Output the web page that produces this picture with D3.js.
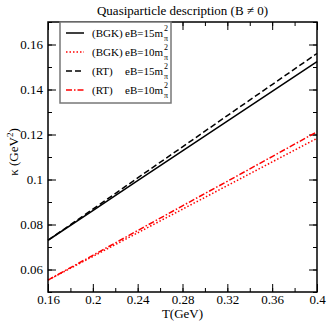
<!DOCTYPE html>
<html><head><meta charset="utf-8">
<script src="https://cdn.jsdelivr.net/npm/d3@7"></script>
<style>body{margin:0;background:#fff}svg{display:block}</style>
</head><body>
<svg id="c" width="327" height="322"></svg>
<script>
const T = [0.16, 0.20, 0.24, 0.28, 0.32, 0.36, 0.40];
const bgk15 = [0.0730, 0.0862, 0.0995, 0.1127, 0.1259, 0.1392, 0.1524];
const bgk10 = [0.0553, 0.0658, 0.0763, 0.0868, 0.0973, 0.1078, 0.1183];
const rt15  = [0.0730, 0.0868, 0.1007, 0.1145, 0.1284, 0.1422, 0.1560];
const rt10  = [0.0553, 0.0663, 0.0773, 0.0883, 0.0992, 0.1102, 0.1212];
const xTicks = [0.16, 0.2, 0.24, 0.28, 0.32, 0.36, 0.4];
const yTicks = [0.06, 0.08, 0.1, 0.12, 0.14, 0.16];
const seriesNames = ["(BGK)", "(BGK)", "(RT)", "(RT)"];
const seriesEB = ["eB=15m", "eB=10m", "eB=15m", "eB=10m"];

const FF = "'Liberation Serif'";
const svg = d3.select("#c");
const L = 48, R = 317, Tp = 22, B = 292;
const x = d3.scaleLinear().domain([0.16, 0.4]).range([L, R]);
const y = d3.scaleLinear().domain([0.05, 0.17]).range([B, Tp]);

const series = [
  {v: bgk15, color: "#000", dash: null},
  {v: bgk10, color: "#ff0000", dash: "1.5,2"},
  {v: rt15, color: "#000", dash: "6,3"},
  {v: rt10, color: "#ff0000", dash: "6,2,1.5,2"}
];

const fmt = d => String(+d.toFixed(2));
const xMinor = d3.range(0.16, 0.4001, 0.02);
const yMinor = d3.range(0.05, 0.1701, 0.01);
function axisGroup(axis, tr){
  const g = svg.append("g").attr("transform", tr).call(axis);
  g.select(".domain").remove();
  g.selectAll("line").attr("stroke","#000");
  return g;
}
axisGroup(d3.axisBottom(x).tickValues(xMinor).tickSize(-4).tickFormat(""), `translate(0,${B})`);
axisGroup(d3.axisBottom(x).tickValues(xTicks).tickSize(-8).tickFormat(fmt).tickPadding(3), `translate(0,${B})`);
axisGroup(d3.axisTop(x).tickValues(xMinor).tickSize(-4).tickFormat(""), `translate(0,${Tp})`);
axisGroup(d3.axisTop(x).tickValues(xTicks).tickSize(-8).tickFormat(""), `translate(0,${Tp})`);
axisGroup(d3.axisLeft(y).tickValues(yMinor).tickSize(-4).tickFormat(""), `translate(${L},0)`);
axisGroup(d3.axisLeft(y).tickValues(yTicks).tickSize(-8).tickFormat(fmt).tickPadding(5), `translate(${L},0)`);
axisGroup(d3.axisRight(y).tickValues(yMinor).tickSize(-4).tickFormat(""), `translate(${R},0)`);
axisGroup(d3.axisRight(y).tickValues(yTicks).tickSize(-8).tickFormat(""), `translate(${R},0)`);

const line = d3.line().x((d,i)=>x(T[i])).y(d=>y(d));
series.forEach(s=>{
  svg.append("path").attr("d", line(s.v)).attr("fill","none").attr("stroke", s.color)
    .attr("stroke-width", 1.5).attr("stroke-dasharray", s.dash);
});

svg.append("rect").attr("x", L).attr("y", Tp).attr("width", R-L).attr("height", B-Tp)
  .attr("fill","none").attr("stroke","#000").attr("stroke-width",1.5);

const lg = svg.append("g");
lg.append("rect").attr("x",60).attr("y",22).attr("width",111).attr("height",81)
  .attr("fill","#fff").attr("stroke","#777").attr("stroke-width",1.5);
const rowY = [33, 52, 71, 90];
series.forEach((s,i)=>{
  const yy = rowY[i];
  lg.append("line").attr("x1",66).attr("x2",84).attr("y1",yy).attr("y2",yy)
    .attr("stroke",s.color).attr("stroke-width",1.5).attr("stroke-dasharray",s.dash);
  lg.append("text").attr("x",92).attr("y",yy+4).attr("font-size",11).text(seriesNames[i]);
  lg.append("text").attr("x",163).attr("y",yy+4).attr("font-size",11).attr("text-anchor","end").text(seriesEB[i]);
  lg.append("text").attr("x",164).attr("y",yy-2).attr("font-size",8).text("2");
  lg.append("text").attr("x",164).attr("y",yy+8).attr("font-size",8).text("π");
});

svg.append("text").attr("x",(L+R)/2).attr("y",15).attr("text-anchor","middle").attr("font-size",13)
  .text("Quasiparticle description (B ≠ 0)");
svg.append("text").attr("x",(L+R)/2).attr("y",318).attr("text-anchor","middle").attr("font-size",13).text("T(GeV)");
const yl = svg.append("text").attr("transform","translate(18,152) rotate(-90)").attr("text-anchor","middle").attr("font-size",13);
yl.append("tspan").text("κ (GeV");
yl.append("tspan").attr("dy",-5).attr("font-size",9).text("2");
yl.append("tspan").attr("dy",5).text(")");

svg.selectAll("text").style("font-family", FF).attr("fill", "#000").style("font-size", function(){ return d3.select(this).attr("font-size") ? d3.select(this).attr("font-size")+"px" : (this.parentNode.tagName==="text" ? null : "13px"); });
svg.selectAll("tspan").style("font-family", FF);
</script>
</body></html>
